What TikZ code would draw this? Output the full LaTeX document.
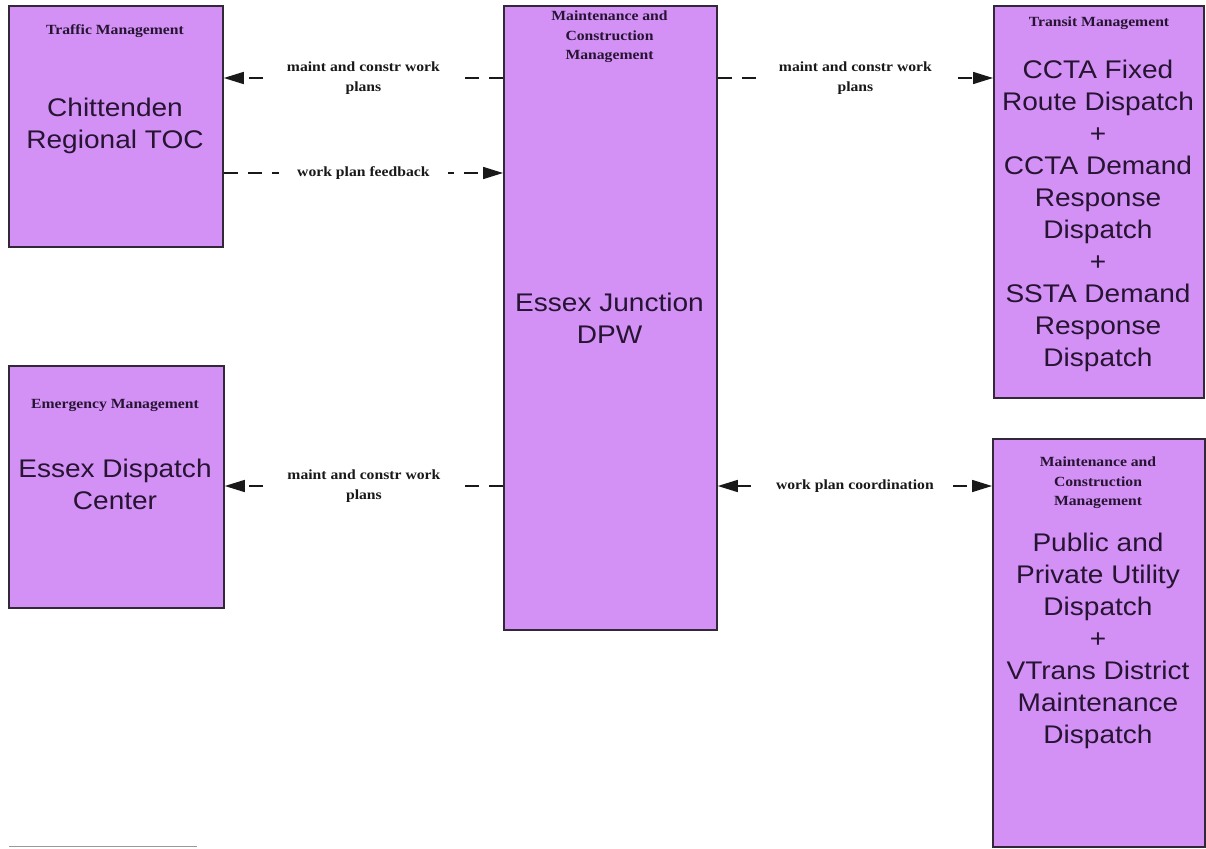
\documentclass[tikz,border=0pt]{standalone}
\usepackage{fontspec}
\setmainfont{Liberation Sans}
\newfontfamily\bigf{Liberation Sans}[FakeStretch=1.1]
\newfontfamily\lblf{Liberation Serif}[FakeStretch=1.12]
\usetikzlibrary{arrows.meta}
\definecolor{boxfill}{RGB}{211,145,246}
\definecolor{boxline}{RGB}{50,40,55}
\definecolor{ink}{RGB}{38,20,50}
\definecolor{linecol}{RGB}{25,25,25}
\begin{document}
\begin{tikzpicture}[x=1pt,y=-1pt,
 sysbox/.style={draw=boxline, line width=1.8pt, fill=boxfill, anchor=north west, inner sep=0pt},
 boxtitle/.style={font=\lblf\bfseries\fontsize{14}{19.5}\selectfont, text=ink, align=center, inner sep=0pt},
 boxname/.style={font=\bigf\fontsize{25.5}{32}\selectfont, text=ink, align=center, inner sep=0pt},
 flowline/.style={draw=linecol, line width=1.6pt, dash pattern=on 14pt off 10pt},
 tipone/.style={-{Triangle[length=20pt,width=12pt]}},
 tipboth/.style={{Triangle[length=20pt,width=12pt]}-{Triangle[length=20pt,width=12pt]}},
 flabel/.style={font=\lblf\bfseries\fontsize{14}{19.5}\selectfont, fill=white, text=linecol, align=center, inner xsep=18pt, inner ysep=2pt}
]
\useasboundingbox[fill=white] (0,0) rectangle (1206,848);

% boxes
\node[sysbox, minimum width=214pt, minimum height=241pt] (toc) at (8,5) {};
\node[sysbox, minimum width=213pt, minimum height=624pt] (dpw) at (503,5) {};
\node[sysbox, minimum width=210pt, minimum height=392pt] (transit) at (993,5) {};
\node[sysbox, minimum width=215pt, minimum height=242pt] (ems) at (8,365) {};
\node[sysbox, minimum width=212pt, minimum height=408pt] (util) at (992,438) {};

% texts
\node[boxtitle] (tocT) at (115,31) {Traffic Management};
\node[boxname] (tocN) at (115,126) {Chittenden\\Regional TOC};

\node[boxtitle] (dpwT) at (609.5,37) {Maintenance and\\Construction\\Management};
\node[boxname] (dpwN) at (609.5,318) {Essex Junction\\DPW};

\node[boxtitle] (transitT) at (1099,23) {Transit Management};
\node[boxname] (transitN) at (1098,216) {CCTA Fixed\\Route Dispatch\\+\\CCTA Demand\\Response\\Dispatch\\+\\SSTA Demand\\Response\\Dispatch};

\node[boxtitle] (emsT) at (115,405) {Emergency Management};
\node[boxname] (emsN) at (115,484) {Essex Dispatch\\Center};

\node[boxtitle] (utilT) at (1098,483) {Maintenance and\\Construction\\Management};
\node[boxname] (utilN) at (1098,640.5) {Public and\\Private Utility\\Dispatch\\+\\VTrans District\\Maintenance\\Dispatch};

% connector levels
\coordinate (ya) at (0,78);
\coordinate (yb) at (0,173);
\coordinate (yc) at (0,486);

\draw[flowline,tipone] (dpw.west |- ya) -- (toc.east |- ya)
  node[midway, flabel] {maint and constr work\\plans};
\draw[flowline,tipone] (toc.east |- yb) -- (dpw.west |- yb)
  node[midway, flabel] {work plan feedback};
\draw[flowline,tipone] (dpw.east |- ya) -- (transit.west |- ya)
  node[midway, flabel] {maint and constr work\\plans};
\draw[flowline,tipone] (dpw.west |- yc) -- (ems.east |- yc)
  node[midway, flabel] {maint and constr work\\plans};
\draw[flowline,tipboth] (dpw.east |- yc) -- (util.west |- yc)
  node[midway, flabel] {work plan coordination};

% bottom-left rule
\coordinate (rs) at (9,846.5);
\coordinate (re) at (197,846.5);
\draw[gray!80, line width=1.6pt] (rs) -- (re);
\end{tikzpicture}
\end{document}
